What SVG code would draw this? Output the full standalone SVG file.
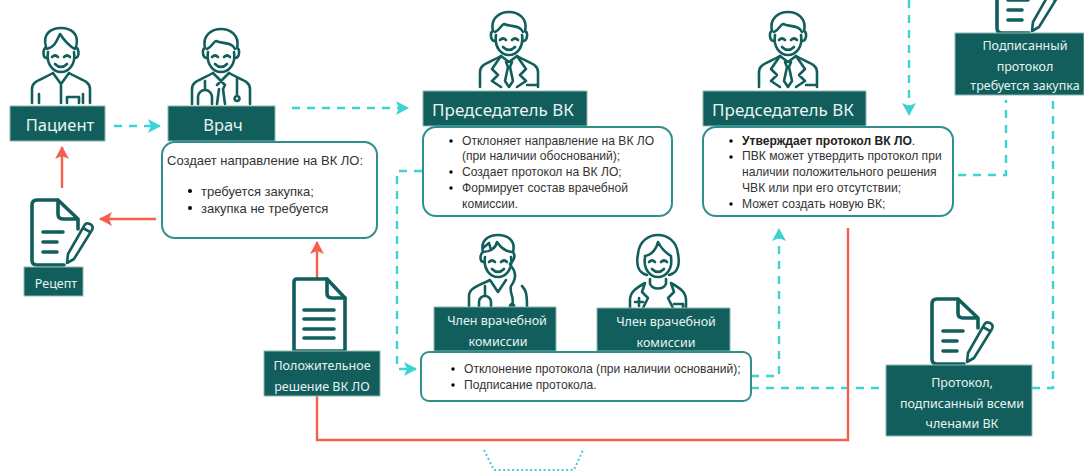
<svg xmlns="http://www.w3.org/2000/svg" width="1084" height="471" viewBox="0 0 1084 471">
<style>
text{font-family:"Liberation Sans",Arial,sans-serif}
.lbl{fill:#e8f3f1;text-anchor:middle;font-family:"Noto Sans","Open Sans",sans-serif}
.box{fill:#115e5c;stroke:#8fb8b4;stroke-width:1}
.card{fill:#fff;stroke:#2f8f8c;stroke-width:2}
.t{fill:#333;font-size:12.100px}
.t13{fill:#333;font-size:13px}
.ic{fill:none;stroke:#115e5c;stroke-width:2.600;stroke-linecap:round;stroke-linejoin:round}
.icb{fill:none;stroke:#115e5c;stroke-width:3.600;stroke-linecap:round;stroke-linejoin:round}
.dash{fill:none;stroke:#3bd3d3;stroke-width:2.400;stroke-dasharray:8 7}
.red{fill:none;stroke:#f4604c;stroke-width:2.400}
.dot{fill:none;stroke:#4cc4dc;stroke-width:2;stroke-dasharray:2 2.500}
</style>
<defs>
<marker id="at" markerUnits="userSpaceOnUse" markerWidth="14" markerHeight="14" refX="12" refY="7" orient="auto"><path d="M0 0L13 7L0 14L3 7Z" fill="#3bd3d3"/></marker>
<marker id="ar" markerUnits="userSpaceOnUse" markerWidth="14" markerHeight="14" refX="12" refY="7" orient="auto"><path d="M0 0L13 7L0 14L3 7Z" fill="#f4604c"/></marker>
<g id="face"><path class="ic" d="M-13 -19C-15 -7 -8 1 0 1C8 1 15 -7 13 -19"/><path class="ic" d="M-9 -14q3 -3 6 0M3 -14q3 -3 6 0M-6 -7q6 6 12 0"/></g>
<g id="man"><use href="#face"/><path class="ic" d="M-14 -13C-19 -13 -19 -22 -16 -23C-19 -36 -9 -42 0 -42C9 -42 19 -36 16 -23C19 -22 19 -13 14 -13"/><path class="ic" d="M-14 -22C-9 -24 -7 -30 -5 -30C2 -27 11 -29 14 -22"/><path class="ic" d="M-29 33V18C-29 10 -20 9 -8 2M29 33V18C29 10 20 9 8 2"/></g>
<g id="doc"><use href="#man"/><path class="ic" d="M-8 2L0 10L8 2M-23 33V26a7 7 0 0 1 14 0V33M-16 19V10M-4 14L0 10L4 14L2 18L4 33M-2 18L-4 33M16 8V24M16 25a2.500 2.500 0 1 0 .1 0"/></g>
<g id="chair"><use href="#man"/><path class="ic" d="M-8 2L-17 15L-11 21L-17 27L-8 33M8 2L17 15L11 21L17 27L8 33M-8 2L0 8L8 2M-3 8L-1 13L-4 27L0 33L4 27L1 13L3 8M-1 13H1M18 31H28"/></g>
<g id="pat"><use href="#face"/><path class="ic" d="M-14 -13C-19 -13 -18 -22 -15 -24C-19 -38 -9 -43 0 -43C9 -43 19 -38 15 -24C18 -22 19 -13 14 -13M-14 -22C-6 -24 -4 -31 -1 -37C3 -31 8 -25 14 -22"/><path class="ic" d="M-29 32V18C-29 10 -20 9 -8 2M29 32V18C29 10 20 9 8 2M-8 2L0 13L8 2M0 13V32M-22 32V23M22 32V23M6 32V26H18V32"/></g>
<g id="sheet"><path class="icb" d="M3 -32H-18Q-23 -32 -23 -27V28Q-23 33 -18 33H9M3 -32V-18Q3 -13 8 -13H23M3 -32L23 -13V-3"/><path class="icb" stroke-width="4" d="M-12 0H8M-12 10H2M-12 20H2"/><path class="ic" d="M13 22L12 31L19 27L37 -2Q39 -6 35 -8Q31 -10 29 -6ZM28 -4L35 0"/></g>
</defs>
<g id="connectors">
<path class="dash" d="M114 126H160" marker-end="url(#at)"/>
<path class="dash" d="M292 108H408" marker-end="url(#at)"/>
<path class="dash" d="M422 171H397V369H416" marker-end="url(#at)"/>
<path class="dash" d="M751 376H779V229" marker-end="url(#at)"/>
<path class="dash" d="M751 388H886M1032 388H1053V97"/>
<path class="dash" d="M958 175H1006V100"/>
<path class="dash" d="M909 0V115" marker-end="url(#at)"/>
<path class="red" d="M62 188V147" marker-end="url(#ar)"/>
<path class="red" d="M156 219H100" marker-end="url(#ar)"/>
<path class="red" d="M317 278V242" marker-end="url(#ar)"/>
<path class="red" d="M317 396V440H848V228"/>
<path class="dot" d="M484 450L494 470H574L583 450"/>
</g>
<g id="patient"><use href="#pat" x="61" y="71"/><rect class="box" x="10" y="106" width="95" height="35"/><text class="lbl" x="60" y="131" font-size="16.500">Пациент</text></g>
<g id="doctor"><use href="#doc" x="221" y="71"/><rect class="box" x="168" y="106" width="107" height="35"/><text class="lbl" x="223" y="131" font-size="16.500">Врач</text>
<rect class="card" x="162" y="142" width="215" height="96" rx="13"/>
<text class="t13" x="167" y="165">Создает направление на ВК ЛО:</text>
<circle cx="190" cy="191" r="2"/><text class="t13" x="201" y="196">требуется закупка;</text>
<circle cx="190" cy="208" r="2"/><text class="t13" x="201" y="213">закупка не требуется</text></g>
<g id="recipe"><use href="#sheet" x="55" y="232"/><rect class="box" x="24" y="267" width="59" height="29"/><text class="lbl" x="56" y="288" font-size="12.500">Рецепт</text></g>
<g id="chair1"><use href="#chair" x="509" y="54"/><rect class="box" x="423" y="91" width="164" height="35"/><text class="lbl" x="503" y="116" font-size="17">Председатель ВК</text>
<rect class="card" x="423" y="127" width="249" height="89" rx="13"/>
<circle cx="451" cy="141" r="1.700"/><text class="t" x="462" y="145">Отклоняет направление на ВК ЛО</text><text class="t" x="462" y="160">(при наличии обоснований);</text>
<circle cx="451" cy="172" r="1.700"/><text class="t" x="462" y="176">Создает протокол на ВК ЛО;</text>
<circle cx="451" cy="188" r="1.700"/><text class="t" x="462" y="192">Формирует состав врачебной</text><text class="t" x="462" y="208">комиссии.</text></g>
<g id="chair2"><use href="#chair" x="788" y="54"/><rect class="box" x="703" y="91" width="163" height="35"/><text class="lbl" x="783" y="116" font-size="17">Председатель ВК</text>
<rect class="card" x="703" y="127" width="250" height="89" rx="13"/>
<circle cx="731" cy="141" r="1.700"/><text class="t" x="742" y="145"><tspan font-weight="bold" fill="#222">Утверждает протокол ВК ЛО</tspan>.</text>
<circle cx="731" cy="157" r="1.700"/><text class="t" x="742" y="160">ПВК может утвердить протокол при</text><text class="t" x="742" y="176">наличии положительного решения</text><text class="t" x="742" y="192">ЧВК или при его отсутствии;</text>
<circle cx="731" cy="204" r="1.700"/><text class="t" x="742" y="208">Может создать новую ВК;</text></g>
<g id="signed"><use href="#sheet" x="1020" y="0"/><rect class="box" x="955" y="33" width="129" height="62"/><text class="lbl" x="1025" y="50" font-size="12.500">Подписанный</text><text class="lbl" x="1025" y="71" font-size="12.500">протокол</text><text class="lbl" x="1025" y="90" font-size="12.500">требуется закупка</text></g>
<g id="member1"><g transform="translate(498 276)"><use href="#face"/><path class="ic" d="M-14 -14C-19 -14 -18 -22 -15 -24C-18 -36 -9 -41 0 -41C9 -41 18 -36 15 -24C19 -18 14 -14 12 -12M-15 -24C-8 -24 -2 -28 -1 -34C3 -28 9 -24 15 -24M-15 -28L-9 -33L-7 -26M13 -10C20 -2 16 6 13 10C11 18 17 20 14 30"/><path class="ic" d="M-29 31V20C-29 12 -20 10 -8 4L0 16L8 4M24 10C28 14 29 18 29 31M-19 31V26a6 6 0 0 1 12 0V31M-13 20V10M14 28a2 2 0 1 0 .1 0"/></g><rect class="box" x="434" y="307" width="122" height="44"/><text class="lbl" x="497" y="325" font-size="12.500">Член врачебной</text><text class="lbl" x="498" y="346" font-size="12.500">комиссии</text></g>
<g id="member2"><g transform="translate(658 276)"><use href="#face"/><path class="ic" d="M-11 -1C-20 -3 -22 -12 -20 -22C-19 -35 -9 -41 0 -41C9 -41 19 -35 20 -22C22 -12 20 -3 11 -1M-13 -20C-6 -21 -1 -28 0 -34C3 -28 8 -23 13 -20"/><path class="ic" d="M-8 3L-8 8M8 3V8M-28 32V24C-28 16 -22 12 -13 7L-16 16L-10 22L-15 32M28 32V24C28 16 22 12 13 7L16 16L10 22L15 32M-8 8C-5 14 5 14 8 8M-23 26H-15M-19 22V30M16 28H25V32"/></g><rect class="box" x="597" y="308" width="133" height="43"/><text class="lbl" x="666" y="326" font-size="12.500">Член врачебной</text><text class="lbl" x="666" y="347" font-size="12.500">комиссии</text></g>
<g id="vote"><rect class="card" x="421" y="352" width="330" height="49" rx="8"/>
<circle cx="453" cy="369" r="1.700"/><text class="t" x="464" y="373">Отклонение протокола (при наличии оснований);</text>
<circle cx="453" cy="385" r="1.700"/><text class="t" x="464" y="389">Подписание протокола.</text></g>
<g id="decision"><path fill="#fff" stroke="#115e5c" stroke-width="3.600" stroke-linejoin="round" d="M297 279H327L345 298V351H294V282Q294 279 297 279Z"/><path class="icb" stroke-width="3" d="M327 279V293Q327 298 332 298H345M304 310H334M304 319H334M304 329H334M304 338H334"/><rect class="box" x="264" y="351" width="116" height="45"/><text class="lbl" x="322" y="370" font-size="12.500">Положительное</text><text class="lbl" x="322" y="391" font-size="12.500">решение ВК ЛО</text></g>
<g id="signedall"><use href="#sheet" x="955" y="331"/><rect class="box" x="886" y="365" width="146" height="71"/><text class="lbl" x="962" y="387" font-size="12.500">Протокол,</text><text class="lbl" x="962" y="408" font-size="12.500">подписанный всеми</text><text class="lbl" x="962" y="428" font-size="12.500">членами ВК</text></g>
</svg>
